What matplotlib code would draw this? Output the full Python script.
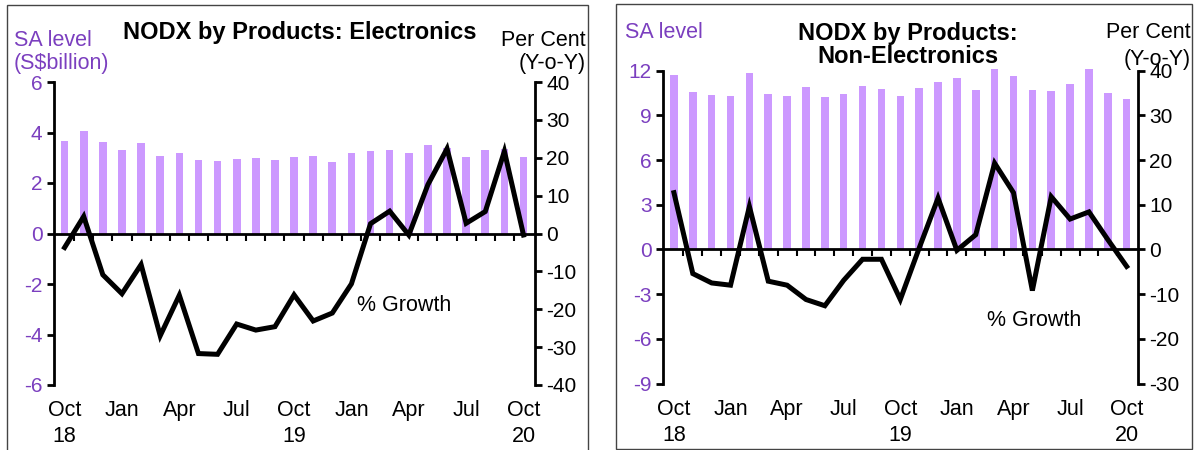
import numpy as np
import matplotlib.pyplot as plt
from matplotlib.patches import Rectangle

plt.rcParams['font.family'] = ['Liberation Sans', 'DejaVu Sans']
plt.rcParams['axes.unicode_minus'] = False

# months Oct 18 .. Oct 20
months = np.arange(25)
tick_labels = ['Oct\n18', 'Jan', 'Apr', 'Jul', 'Oct\n19', 'Jan', 'Apr', 'Jul', 'Oct\n20']

# Electronics: SA level (S$bn) and % growth y-o-y
elec_level = [3.67, 4.04, 3.64, 3.29, 3.60, 3.07, 3.17, 2.92, 2.88, 2.94, 2.99, 2.90, 3.03,
              3.05, 2.82, 3.17, 3.25, 3.29, 3.18, 3.49, 3.38, 3.01, 3.32, 3.34, 3.01]
elec_growth = [-3.7, 4.5, -10.9, -15.9, -8.2, -27.0, -16.3, -31.7, -31.9, -23.9, -25.5, -24.6, -16.2,
               -23.1, -21.0, -13.3, 2.6, 5.9, -0.4, 12.9, 22.4, 2.7, 5.8, 21.7, -0.4]

# Non-electronics
nonelec_level = [11.71, 10.55, 10.37, 10.30, 11.87, 10.46, 10.30, 10.91, 10.26, 10.44, 10.97, 10.75, 10.30,
                 10.84, 11.24, 11.51, 10.73, 12.09, 11.66, 10.68, 10.66, 11.13, 12.09, 10.50, 10.10]
nonelec_growth = [12.7, -5.4, -7.5, -8.0, 9.6, -7.1, -8.0, -11.2, -12.6, -6.9, -2.2, -2.2, -11.2,
                  0.3, 11.5, -0.2, 3.3, 19.3, 12.7, -9.2, 11.8, 6.8, 8.4, 2.2, -3.8]

PURPLE = '#7B3FBF'
BAR = '#CC99FF'
FS = 15.5
TFS = 15

fig = plt.figure(figsize=(11.95, 4.5), dpi=100)
W, H = 1195, 450


def px(x0, y0, x1, y1):
    return [x0 / W, 1 - y1 / H, (x1 - x0) / W, (y1 - y0) / H]


def panel(rect, level, growth, lylim, lyticks, rylim, ryticks, growth_pos):
    ax = fig.add_axes(rect)
    ax.bar(months, level, width=0.4, color=BAR, zorder=1, clip_on=False)
    ax.set_xlim(-0.58, 24.6)
    ax.set_ylim(*lylim)
    ax.set_yticks(lyticks)
    ax.tick_params(axis='y', colors='black', labelcolor=PURPLE, labelsize=TFS,
                   direction='out', length=5, width=2, pad=3)
    ax.spines['top'].set_visible(False)
    ax.spines['right'].set_visible(False)
    ax.spines['left'].set_linewidth(2)
    ax.spines['bottom'].set_position(('data', 0))
    ax.spines['bottom'].set_linewidth(2)
    ax.spines['bottom'].set_zorder(3)
    ax.set_xticks(np.arange(0.5, 24, 1))
    ax.set_xticklabels([])
    ax.tick_params(axis='x', direction='out', length=5, width=1.5)
    for i, lab in enumerate(tick_labels):
        ax.annotate(lab, (months[i * 3], 0), xycoords=ax.get_xaxis_transform(),
                    xytext=(0, -11), textcoords='offset points', ha='center', va='top',
                    multialignment='center', fontsize=FS, linespacing=1.3)

    ax2 = ax.twinx()
    ax2.plot(months, growth, color='black', lw=3.6, solid_joinstyle='miter', zorder=4)
    ax2.set_ylim(*rylim)
    ax2.set_yticks(ryticks)
    ax2.tick_params(axis='y', labelsize=TFS, direction='out', length=5, width=2, pad=3)
    for s in ['top', 'left', 'bottom']:
        ax2.spines[s].set_visible(False)
    ax2.spines['right'].set_linewidth(2)
    ax2.text(growth_pos[0], growth_pos[1], '% Growth', fontsize=FS, ha='left', va='center')
    return ax, ax2


panel(px(53.5, 82, 535, 385), elec_level, elec_growth,
      (-6, 6), np.arange(-6, 7, 2), (-40, 40), np.arange(-40, 41, 10), (15.3, -19))
panel(px(663, 70.7, 1138, 383.5), nonelec_level, nonelec_growth,
      (-9, 12), np.arange(-9, 13, 3), (-30, 40), np.arange(-30, 41, 10), (16.6, -15.8))

# panel frames
fig.patches.append(Rectangle((7 / W, 1 - 460 / H), 581 / W, 455 / H, transform=fig.transFigure,
                             fill=False, edgecolor='#444444', lw=1))
fig.patches.append(Rectangle((616 / W, 1 - 449 / H), 576 / W, 445 / H, transform=fig.transFigure,
                             fill=False, edgecolor='#444444', lw=1))

# titles and axis captions
fig.text(300 / W, 1 - 33 / H, 'NODX by Products: Electronics', fontsize=17, fontweight='bold',
         ha='center', va='center')
fig.text(14 / W, 1 - 40 / H, 'SA level', color=PURPLE, fontsize=FS, ha='left', va='center')
fig.text(14 / W, 1 - 64 / H, '(S$billion)', color=PURPLE, fontsize=FS, ha='left', va='center')
fig.text(586 / W, 1 - 40 / H, 'Per Cent', fontsize=FS, ha='right', va='center')
fig.text(586 / W, 1 - 64 / H, '(Y-o-Y)', fontsize=FS, ha='right', va='center')

fig.text(908 / W, 1 - 45 / H, 'NODX by Products:\nNon-Electronics', fontsize=17, fontweight='bold',
         ha='center', va='center', linespacing=1.05)
fig.text(625 / W, 1 - 33 / H, 'SA level', color=PURPLE, fontsize=FS, ha='left', va='center')
fig.text(1191 / W, 1 - 33 / H, 'Per Cent', fontsize=FS, ha='right', va='center')
fig.text(1191 / W, 1 - 60 / H, '(Y-o-Y)', fontsize=FS, ha='right', va='center')

fig.savefig('out.png', dpi=100)
